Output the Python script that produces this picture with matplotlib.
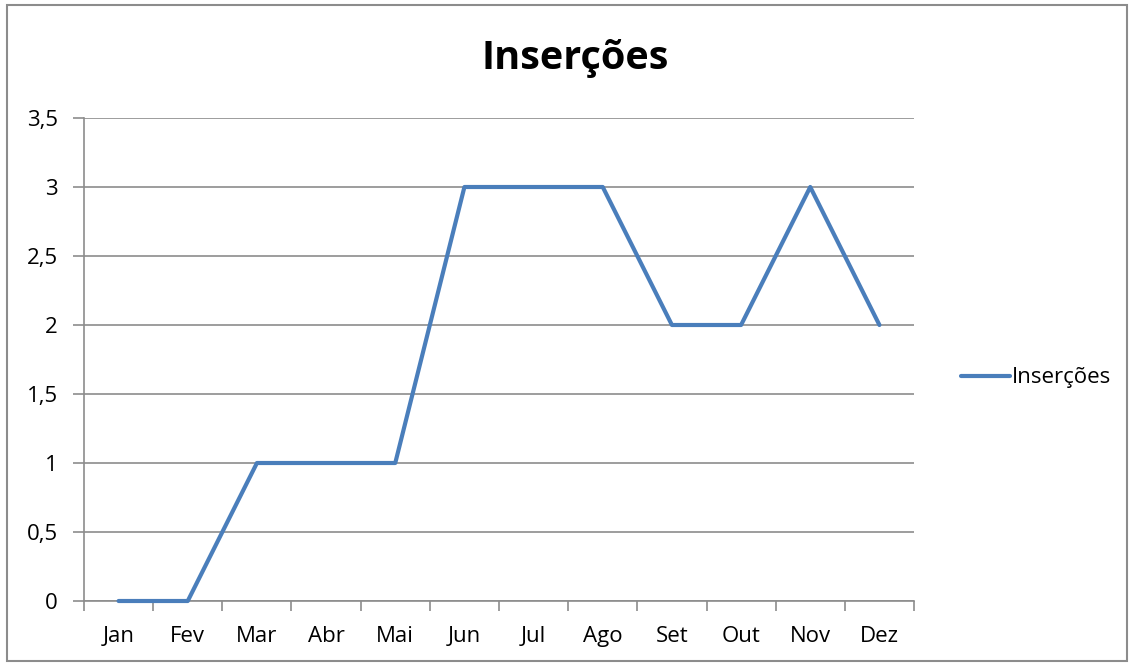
import numpy as np
import matplotlib
matplotlib.use('Agg')
import matplotlib.pyplot as plt
from matplotlib.patches import Rectangle
from matplotlib.lines import Line2D

months = ['Jan', 'Fev', 'Mar', 'Abr', 'Mai', 'Jun', 'Jul', 'Ago', 'Set', 'Out', 'Nov', 'Dez']
insercoes = [0, 0, 1, 1, 1, 3, 3, 3, 2, 2, 3, 2]
yticks = [0, 0.5, 1, 1.5, 2, 2.5, 3, 3.5]
ytick_labels = ['0', '0,5', '1', '1,5', '2', '2,5', '3', '3,5']

plt.rcParams['font.family'] = ['Open Sans', 'DejaVu Sans']
grid_color = '#8c8c8c'
line_color = '#4a7ebb'

fig = plt.figure(figsize=(11.34, 6.64), dpi=100)
ax = fig.add_axes([84 / 1134, 1 - 601 / 664, 830 / 1134, 483 / 664])

x = np.arange(len(months))
ax.plot(x, insercoes, color=line_color, lw=3, solid_capstyle='round', zorder=3, clip_on=False)

ax.set_xlim(-0.5, len(months) - 0.5)
ax.set_ylim(0, 3.5)
ax.set_yticks(yticks)
ax.set_yticklabels(ytick_labels, fontsize=16)
ax.set_xticks(x)
ax.set_xticklabels(months, fontsize=16)
ax.set_xticks(np.arange(-0.5, len(months)), minor=True)
ax.tick_params(axis='x', which='major', length=0, pad=18)
ax.tick_params(axis='x', which='minor', length=7, color=grid_color, width=1.2)
ax.tick_params(axis='y', length=8, color=grid_color, width=1.2, pad=11)
ax.yaxis.grid(True, color=grid_color, lw=1.2)
ax.set_axisbelow(True)
for s in ['top', 'right']:
    ax.spines[s].set_visible(False)
for s in ['left', 'bottom']:
    ax.spines[s].set_color(grid_color)
    ax.spines[s].set_linewidth(1.2)

fig.text(575 / 1134, 1 - 58 / 664, 'Inserções', fontsize=28.5, fontweight='bold',
         ha='center', va='center')

handle = Line2D([], [], color=line_color, lw=3, solid_capstyle='round')
fig.legend([handle], ['Inserções'], loc='center left', bbox_to_anchor=(952 / 1134, 1 - 378 / 664),
           frameon=False, fontsize=16, handlelength=2.2, handletextpad=0.1, borderaxespad=0)

fig.patches.append(Rectangle((7 / 1134, 3 / 664), 1120 / 1134, 656 / 664, transform=fig.transFigure,
                             fill=False, edgecolor=grid_color, lw=1.5))

fig.savefig('out.png', dpi=100)
